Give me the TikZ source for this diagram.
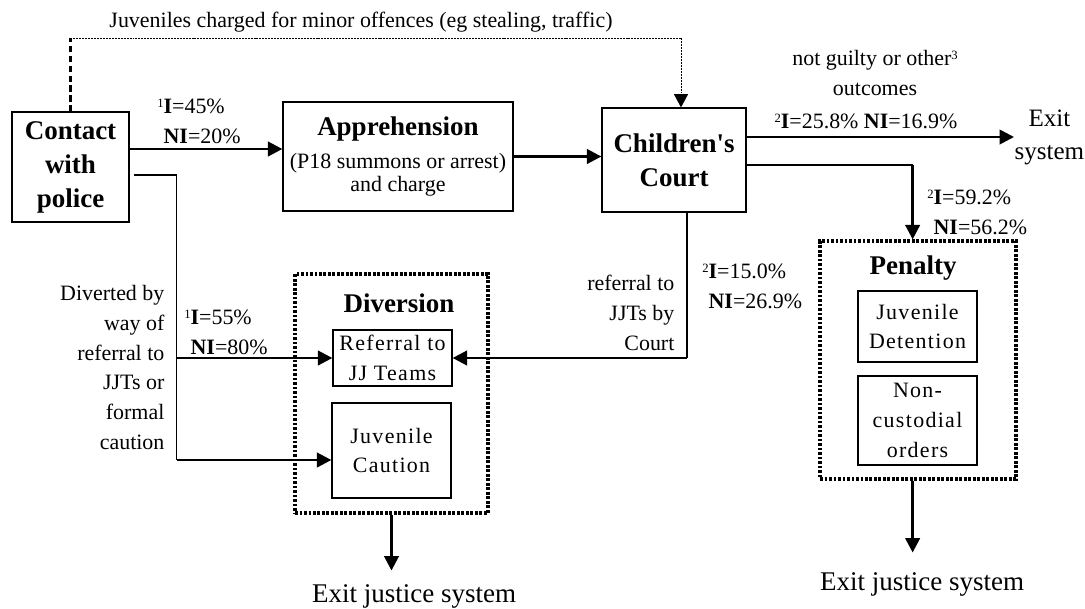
\documentclass[tikz,border=0pt]{standalone}
\usepackage{fontspec}
\setmainfont{Liberation Serif}
\newfontfamily\trackfont[LetterSpace=6]{Liberation Serif}
\usetikzlibrary{arrows.meta, calc}

\newcommand{\lab}{\fontsize{15.6}{21.3}\selectfont}
\newcommand{\hd}{\fontsize{19.2}{24.2}\selectfont\bfseries}
\newcommand{\sps}[1]{\raisebox{4.3pt}{\fontsize{9}{9}\selectfont #1}}

\tikzset{
  every picture/.style={line width=0.9pt},
  box/.style={draw, line width=0.9pt, align=center, inner sep=0pt},
  dotbox/.style={draw, line width=2.3pt, dash pattern=on 1.9pt off 1.3pt},
  sz/.style 2 args={minimum width=#1*0.25mm, minimum height=#2*0.25mm},
  arrow/.style={-{Triangle[length=3.6mm, width=3.6mm]}, line width=1.9pt},
  link/.style={line width=0.9pt},
  note/.style={font=\lab, inner sep=0pt},
}

\begin{document}
\begin{tikzpicture}[x=0.25mm, y=-0.25mm,
    title/.style={font=\hd, inner sep=0pt},
    inbox/.style={box, font=\lab\trackfont},
    exit/.style={font=\fontsize{19.2}{24}\selectfont, inner sep=0pt},
    dashline/.style={line width=1.5pt, dash pattern=on 4.5pt off 2.5pt},
    dotline/.style={line width=0.7pt, dash pattern=on 1.4pt off 0.7pt},
  ]
  \useasboundingbox (0,0) rectangle (1085,608);

  % ---- main line
  \node[box, sz={117}{110}, font=\hd] (contact) at (70.5,167) {Contact\\with\\police};
  \node[box, sz={230}{109}, font=\lab] (app) at (398,156.5) {{\hd Apprehension}\\[2.2pt](P18 summons or arrest)\\[-4.9pt]and charge};
  \node[box, sz={144}{104}, font=\hd] (court) at (674,160) {Children\textquotesingle s\\Court};

  % ---- diversion
  \node[dotbox, sz={193}{239}] (div) at (391.5,393.5) {};
  \node[title] (divt) at (399,303) {Diversion};
  \node[inbox, sz={119}{56}] (ref) at (392.5,358) {Referral to\\JJ Teams};
  \node[inbox, sz={119}{95}] (caution) at (391.5,450.5) {Juvenile\\Caution};

  % ---- penalty
  \node[dotbox, sz={196}{238}] (pen) at (918,360) {};
  \node[title] (pent) at (913,268) {Penalty};
  \node[inbox, sz={119}{71}] (det) at (917.5,326.5) {Juvenile\\Detention};
  \node[inbox, sz={119}{89}] (noncust) at (917.5,420.5) {Non-\\custodial\\orders};

  % ---- labels
  \node[note] (minor) at (361,22) {Juveniles charged for minor offences (eg stealing, traffic)};
  \node[note, align=left, anchor=west] (p45) at (163,121.5) {\llap{\sps{1}}\textbf{I}=45\%\\\textbf{NI}=20\%};
  \node[note, align=left, anchor=west] (p55) at (190,332) {\llap{\sps{1}}\textbf{I}=55\%\\\textbf{NI}=80\%};
  \node[note, align=right, anchor=east] (divert) at (165,367.5) {Diverted by\\way of\\referral to\\JJTs or\\formal\\caution};
  \node[note, align=right, anchor=east] (refct) at (675,313) {referral to\\JJTs by\\Court};
  \node[note, align=left, anchor=west] (p15) at (708,286) {\llap{\sps{2}}\textbf{I}=15.0\%\\\textbf{NI}=26.9\%};
  \node[note, align=center] (notg) at (875,73) {not guilty or other\sps{3}\\outcomes};
  \node[note] (p25) at (866,121) {\sps{2}\textbf{I}=25.8\% \textbf{NI}=16.9\%};
  \node[note, align=left, anchor=west] (p59) at (933,212) {\llap{\sps{2}}\textbf{I}=59.2\%\\\textbf{NI}=56.2\%};
  \node[note, font=\fontsize{17.8}{23.5}\selectfont, align=center, anchor=west] (exitR) at (1014,137) {Exit\\system};
  \node[exit, anchor=base, outer ysep=3.4mm] (exitL) at (414,602) {Exit justice system};
  \node[exit, anchor=base, outer ysep=4.9mm] (exitP) at (922,590) {Exit justice system};

  % ---- connectors
  \coordinate (c1) at ($(contact.east)+(0,-18)$);
  \draw[arrow] (c1) -- (c1 -| app.west);
  \draw[arrow] (app.east) -- (app.east -| court.west);
  \coordinate (c2) at ($(court.east)+(0,-23)$);
  \draw[arrow] (c2) -- (c2 -| exitR.west);

  % minor offences go straight to court
  \coordinate (m1) at ($(contact.north)+(0,-73)$);
  \coordinate (m2) at ($(court.north)+(7,-69)$);
  \draw[dashline] (contact.north) -- (m1);
  \draw[dotline] (m1) -- (m2);
  \draw[dotline, -{Triangle[length=3.3mm, width=3.5mm]}] (m2) -- (m2 |- court.north);

  % court to penalty
  \coordinate (c3) at ($(court.east)+(0,5)$);
  \coordinate (pt) at ($(c3)+(166,0)$);
  \draw[link] (c3) -- (pt);
  \draw[arrow] (pt) -- (pt |- pen.north);
  \draw[arrow] (pt |- pen.south) -- (pt |- exitP.north);

  % court back to JJ teams
  \coordinate (c4) at ($(court.south)+(13,0)$);
  \draw[link] (c4) -- (c4 |- ref.east);
  \draw[arrow] (c4 |- ref.east) -- (ref.east);

  % diversion from contact
  \coordinate (d1) at ($(contact.east)+(4,8)$);
  \coordinate (d2) at ($(d1)+(43,0)$);
  \coordinate (d3) at ($(d2)+(0,285)$);
  \draw[link] (d1) -- (d2) -- (d3);
  \draw[arrow] (d2 |- ref.west) -- (ref.west);
  \draw[arrow] (d3) -- (d3 -| caution.west);
  \draw[arrow] (div.south) -- (div.south |- exitL.north);
\end{tikzpicture}
\end{document}
